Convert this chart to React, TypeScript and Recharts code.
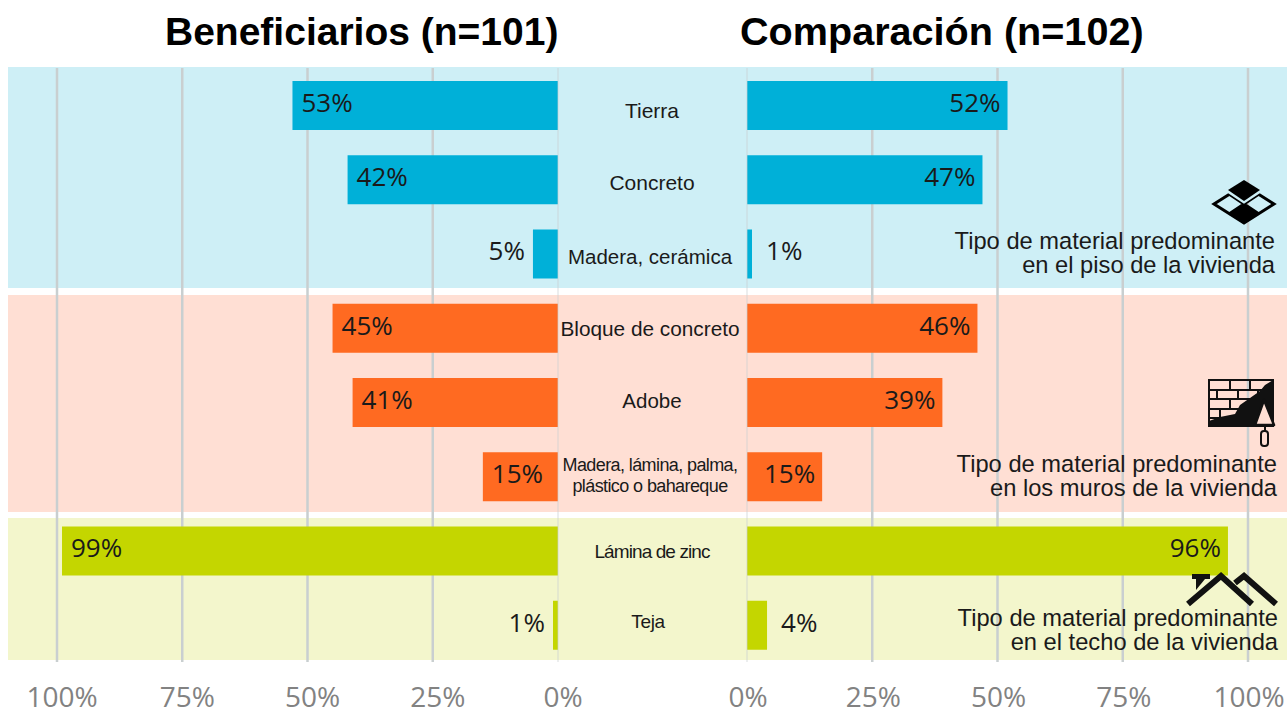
import { BarChart, Bar, XAxis, YAxis, CartesianGrid, Cell, LabelList, ReferenceLine } from 'recharts';

const categories = [
  'Tierra',
  'Concreto',
  'Madera, cerámica',
  'Bloque de concreto',
  'Adobe',
  'Madera, lámina, palma,\nplástico o bahareque',
  'Lámina de zinc',
  'Teja',
];
const beneficiarios = [53, 42, 5, 45, 41, 15, 99, 1];
const comparacion = [52, 47, 1, 46, 39, 15, 96, 4];
const axisTicks = [0, 25, 50, 75, 100];
const gridValues = [25, 50, 75, 100];

const BAR_COLORS = [
  '#00B0D8', '#00B0D8', '#00B0D8',
  '#FF6A21', '#FF6A21', '#FF6A21',
  '#C4D600', '#C4D600',
];

const SANS = '"Liberation Sans", Arial, sans-serif';
const NUMS = '"Open Sans", sans-serif';

// small per-label tweaks, the labels in the picture are not evenly placed
const LABEL_TWEAKS: Record<string, { dx: number; dy: number; size: number; spacing: number }> = {
  Tierra: { dx: 0, dy: 6, size: 21, spacing: 0 },
  Concreto: { dx: 0, dy: 4, size: 21, spacing: 0 },
  'Madera, cerámica': { dx: -2, dy: 3, size: 20.5, spacing: 0 },
  'Bloque de concreto': { dx: -2, dy: 1, size: 20.8, spacing: 0 },
  Adobe: { dx: 0, dy: -1, size: 20.5, spacing: 0 },
  'Madera, lámina, palma,\nplástico o bahareque': { dx: -2, dy: -1, size: 18, spacing: -0.6 },
  'Lámina de zinc': { dx: 0, dy: 0, size: 19, spacing: -0.9 },
  Teja: { dx: -4, dy: -4, size: 19, spacing: -0.4 },
};

const leftData = categories.map((name, i) => ({ name, value: beneficiarios[i] }));
const rightData = categories.map((name, i) => ({ name, value: comparacion[i] }));

function CategoryTick({ y, payload }: any) {
  const t = LABEL_TWEAKS[payload.value];
  const lines = String(payload.value).split('\n');
  return (
    <text
      x={652 + t.dx}
      y={y + t.dy}
      textAnchor="middle"
      fontFamily={SANS}
      fontSize={t.size}
      letterSpacing={t.spacing}
      fill="#1a1a1a"
    >
      {lines.map((line, i) => (
        <tspan key={line} x={652 + t.dx} dy={lines.length > 1 ? (i === 0 ? -4 : 21) : 7}>
          {line}
        </tspan>
      ))}
    </text>
  );
}

function valueLabel(side: 'left' | 'right') {
  return function ValueLabel({ x, y, width, height, value }: any) {
    const x0 = Math.min(x, x + width);
    const x1 = Math.max(x, x + width);
    const inside = value >= 10;
    let px: number;
    let anchor: 'start' | 'end';
    if (side === 'left') {
      px = inside ? x0 + 9 : x0 - 8;
      anchor = inside ? 'start' : 'end';
    } else {
      px = inside ? x1 - 7 : x1 + 14;
      anchor = inside ? 'end' : 'start';
    }
    return (
      <text
        x={px}
        y={y + height / 2 - 3}
        dy="0.36em"
        textAnchor={anchor}
        fontFamily={NUMS}
        fontSize={26}
        fill="#1a1a1a"
      >
        {value}%
      </text>
    );
  };
}

function AxisTick({ x, y, payload, shift }: any) {
  return (
    <text
      x={x + shift}
      y={y}
      dy="0.36em"
      textAnchor="middle"
      fontFamily={NUMS}
      fontSize={28}
      fill="#828282"
    >
      {payload.value}%
    </text>
  );
}

function Panel({ side, data, width, left, margin }: any) {
  const isLeft = side === 'left';
  return (
    <div style={{ position: 'absolute', left, top: 0 }}>
      <BarChart width={width} height={715} data={data} layout="vertical" margin={margin} barCategoryGap={0}>
        <CartesianGrid horizontal={false} verticalValues={gridValues} stroke="#c9cfd0" strokeWidth={2.5} />
        <XAxis
          type="number"
          domain={[0, 100]}
          ticks={axisTicks}
          reversed={isLeft}
          interval={0}
          axisLine={false}
          tickLine={false}
          tick={<AxisTick shift={isLeft ? 5 : 1} />}
          tickMargin={29}
          height={53}
        />
        <YAxis
          type="category"
          dataKey="name"
          orientation="right"
          width={isLeft ? 189 : 0}
          hide={!isLeft}
          interval={0}
          axisLine={false}
          tickLine={false}
          tick={CategoryTick}
        />
        <ReferenceLine x={0} stroke="#c9cfd0" strokeWidth={1} strokeOpacity={0.7} />
        <Bar dataKey="value" barSize={49} isAnimationActive={false}>
          {data.map((d: any, i: number) => (
            <Cell key={d.name} fill={BAR_COLORS[i]} />
          ))}
          <LabelList dataKey="value" content={valueLabel(side)} />
        </Bar>
      </BarChart>
    </div>
  );
}

function Band({ top, height, color }: any) {
  return <div style={{ position: 'absolute', left: 8, top, width: 1279, height, background: color }} />;
}

function Caption({ right, y, lines }: any) {
  return (
    <text fontFamily={SANS} fontSize={23.7} fill="#1a1a1a" textAnchor="end">
      <tspan x={right} y={y}>{lines[0]}</tspan>
      <tspan x={right} y={y + 23.5}>{lines[1]}</tspan>
    </text>
  );
}

function Overlay() {
  return (
    <svg width={1287} height={715} style={{ position: 'absolute', left: 0, top: 0, pointerEvents: 'none' }}>
      <text x={165} y={45} fontFamily={SANS} fontWeight="bold" fontSize={39} fill="#000">
        Beneficiarios (n=101)
      </text>
      <text x={740} y={45} fontFamily={SANS} fontWeight="bold" fontSize={39.6} fill="#000">
        Comparación (n=102)
      </text>

      <Caption right={1275} y={249} lines={['Tipo de material predominante', 'en el piso de la vivienda']} />
      <Caption right={1277} y={472} lines={['Tipo de material predominante', 'en los muros de la vivienda']} />
      <Caption right={1278} y={626} lines={['Tipo de material predominante', 'en el techo de la vivienda']} />

      {/* piso */}
      <g>
        <path d="M1244 185 L1274 204 L1244 223 L1214 204 Z" fill="none" stroke="#000" strokeWidth={3} />
        <path d="M1229 194 L1259 214 M1259 194 L1229 214" stroke="#000" strokeWidth={3} />
        <path d="M1244 204 L1259 214 L1244 224 L1229 214 Z" fill="#000" />
        <path d="M1226 190 L1244 202 L1262 190" fill="none" stroke="#CEEFF6" strokeWidth={3} />
        <path d="M1244 180 L1260 190 L1244 201 L1228 190 Z" fill="#000" />
      </g>

      {/* muros */}
      <g>
        <rect x={1209} y={380} width={64} height={46} fill="none" stroke="#111" strokeWidth={2} />
        <path
          d="M1209 390 H1273 M1209 399 H1273 M1209 409 H1273 M1209 418 H1250 M1230 380 V390 M1250 380 V390 M1217 390 V399 M1238 390 V399 M1258 390 V399 M1230 399 V409 M1250 399 V409 M1220 409 V418"
          stroke="#111"
          strokeWidth={2}
          fill="none"
        />
        <path d="M1209 426 V421 L1220 417 L1235 414 L1240 405 L1250 398 L1260 391 L1265 385 L1273 380 V426 Z" fill="#111" />
        <path d="M1264 400 L1274 425 L1255 425 Z" fill="#FFDFD4" stroke="#111" strokeWidth={2.5} strokeLinejoin="round" />
        <path d="M1265 425 V432" stroke="#111" strokeWidth={2} />
        <rect x={1261} y={431} width={7} height={15} rx={3} fill="none" stroke="#111" strokeWidth={2} />
      </g>

      {/* techo */}
      <g>
        <path d="M1188 604 L1221 576 L1252 604" fill="none" stroke="#111" strokeWidth={6} />
        <path d="M1235 583 L1244 576 L1276 604" fill="none" stroke="#111" strokeWidth={6} />
        <rect x={1192} y={574} width={18} height={5} fill="#111" />
        <path d="M1196 579 H1205 L1196 590 Z" fill="#111" />
      </g>
    </svg>
  );
}

export default function App() {
  return (
    <div style={{ position: 'absolute', left: 0, top: 0, width: 1287, height: 715, background: '#fff', overflow: 'hidden' }}>
      <Band top={67} height={221} color="#CEEFF6" />
      <Band top={295} height={217} color="#FFDFD4" />
      <Band top={518} height={142} color="#F3F6CC" />
      <Panel
        side="left"
        data={leftData}
        left={0}
        width={747}
        margin={{ top: 68, right: 0, bottom: 0, left: 57 }}
      />
      <Panel
        side="right"
        data={rightData}
        left={690}
        width={597}
        margin={{ top: 68, right: 39, bottom: 0, left: 57 }}
      />
      <Overlay />
    </div>
  );
}
